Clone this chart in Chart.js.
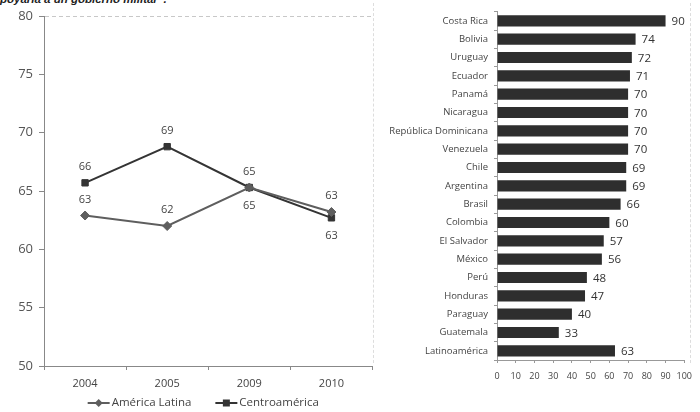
<!DOCTYPE html>
<html>
<head>
<meta charset="utf-8">
<script src="https://cdn.jsdelivr.net/npm/chart.js@4"></script>
<style>
  body { margin: 0; background: #fff; width: 700px; height: 412px; overflow: hidden; position: relative; }
  #title { position: absolute; left: 0; top: -7px; font: italic bold 11.5px "Liberation Sans", Arial, sans-serif; color: #222; white-space: nowrap; }
  #leftBox { position: absolute; left: 0; top: 0; width: 378px; height: 412px; }
  #rightBox { position: absolute; left: 372px; top: 0; width: 328px; height: 412px; }
  #frame { position: absolute; left: 373px; top: 3px; width: 316px; height: 360px; border-left: 1px dashed #ddd; border-right: 1px dashed #ddd; }
</style>
</head>
<body>
<div id="title">poyaría a un gobierno militar”.</div>
<div id="frame"></div>
<div id="leftBox"><canvas id="lineChart"></canvas></div>
<div id="rightBox"><canvas id="barChart"></canvas></div>
<script>
(function () {
  // Left: share supporting a military government, by year
  var YEARS = ['2004', '2005', '2009', '2010'];
  var AL_VALUES = [62.9, 62.0, 65.3, 63.2];   // América Latina
  var CA_VALUES = [65.7, 68.8, 65.3, 62.7];   // Centroamérica
  var Y_MIN = 50, Y_MAX = 80, Y_STEP = 5;

  // Right: by country
  var COUNTRIES = ['Costa Rica', 'Bolivia', 'Uruguay', 'Ecuador', 'Panamá', 'Nicaragua',
    'República Dominicana', 'Venezuela', 'Chile', 'Argentina', 'Brasil', 'Colombia',
    'El Salvador', 'México', 'Perú', 'Honduras', 'Paraguay', 'Guatemala', 'Latinoamérica'];
  var COUNTRY_VALUES = [90, 74, 72, 71, 70, 70, 70, 70, 69, 69, 66, 60, 57, 56, 48, 47, 40, 33, 63];
  var X_MIN = 0, X_MAX = 100, X_STEP = 10;

  var FONT = '"Open Sans", Lato, sans-serif';
  var TXT = '#444';

  // draw a line-with-marker symbol (legend)
  function drawSymbol(g, kind, color, x, y) {
    g.strokeStyle = color; g.lineWidth = 2;
    g.beginPath(); g.moveTo(x, y); g.lineTo(x + 22, y); g.stroke();
    g.fillStyle = color;
    g.beginPath();
    if (kind === 'rectRot') {
      g.moveTo(x + 11, y - 4); g.lineTo(x + 15, y); g.lineTo(x + 11, y + 4); g.lineTo(x + 7, y);
    } else {
      g.rect(x + 7.5, y - 3.5, 7, 7);
    }
    g.closePath(); g.fill();
  }

  // value labels above / below each point, plus the Excel-style legend
  var lineExtras = {
    id: 'lineExtras',
    afterDatasetsDraw: function (chart) {
      var ctx = chart.ctx;
      ctx.save();
      ctx.font = '11px ' + FONT;
      ctx.fillStyle = TXT;
      ctx.textAlign = 'center';
      ctx.textBaseline = 'middle';
      chart.data.datasets.forEach(function (ds, i) {
        chart.getDatasetMeta(i).data.forEach(function (pt, j) {
          var dy = ds.labelPos[j] === 'below' ? 18 : -16;
          ctx.fillText(Math.round(ds.data[j]), pt.x, pt.y + dy);
        });
      });

      // legend
      ctx.font = '11.5px ' + FONT;
      ctx.textAlign = 'left';
      var sets = chart.data.datasets;
      var gap = 24, symW = 22, pad = 2;
      var total = 0;
      sets.forEach(function (ds, i) {
        total += symW + pad + ctx.measureText(ds.label).width + (i ? gap : 0);
      });
      var area = chart.chartArea;
      var x = (area.left + area.right) / 2 - total / 2 - 5;
      var y = area.bottom + 37;
      sets.forEach(function (ds) {
        drawSymbol(ctx, ds.pointStyle, ds.borderColor, x, y);
        x += symW + pad;
        ctx.fillStyle = TXT;
        ctx.fillText(ds.label, x, y);
        x += ctx.measureText(ds.label).width + gap;
      });
      ctx.restore();
    }
  };

  // value labels at the end of each bar
  var barLabels = {
    id: 'barLabels',
    afterDatasetsDraw: function (chart) {
      var ctx = chart.ctx;
      ctx.save();
      ctx.font = '11.5px ' + FONT;
      ctx.fillStyle = '#333';
      ctx.textAlign = 'left';
      ctx.textBaseline = 'middle';
      var ds = chart.data.datasets[0];
      chart.getDatasetMeta(0).data.forEach(function (bar, j) {
        ctx.fillText(ds.data[j], bar.x + 6, bar.y + 1);
      });
      ctx.restore();
    }
  };

  var AL_COLOR = '#5e5e5e', CA_COLOR = '#343434';

  new Chart(document.getElementById('lineChart'), {
    type: 'line',
    plugins: [lineExtras],
    data: {
      labels: YEARS,
      datasets: [
        {
          label: 'América Latina',
          data: AL_VALUES,
          borderColor: AL_COLOR,
          backgroundColor: AL_COLOR,
          borderWidth: 2,
          pointStyle: 'rectRot',
          pointRadius: 4.5,
          pointBorderWidth: 1,
          labelPos: ['above', 'above', 'below', 'above'],
          tension: 0
        },
        {
          label: 'Centroamérica',
          data: CA_VALUES,
          borderColor: CA_COLOR,
          backgroundColor: CA_COLOR,
          borderWidth: 2,
          pointStyle: 'rect',
          pointRadius: 4.5,
          pointBorderWidth: 1,
          labelPos: ['above', 'above', 'above', 'below'],
          tension: 0
        }
      ]
    },
    options: {
      responsive: true,
      maintainAspectRatio: false,
      animation: false,
      layout: { padding: { top: 16, right: 0, bottom: 0, left: 0 } },
      plugins: {
        tooltip: { enabled: false },
        legend: { display: false }
      },
      scales: {
        x: {
          offset: true,
          afterFit: function (s) { s.height = 46; },
          ticks: { color: TXT, font: { family: FONT, size: 11 }, padding: 7 },
          grid: { offset: true, drawOnChartArea: false, tickLength: 4, tickColor: '#888' },
          border: { color: '#888' }
        },
        y: {
          min: Y_MIN,
          max: Y_MAX,
          afterFit: function (s) { s.width = 44; },
          ticks: { stepSize: Y_STEP, color: '#555', font: { family: FONT, size: 13 }, padding: 6 },
          grid: {
            color: function (c) { return c.tick && c.tick.value === Y_MAX ? '#c8c8c8' : 'rgba(0,0,0,0)'; },
            tickColor: '#888',
            tickLength: 5
          },
          border: { color: '#888', dash: [4, 3] }
        }
      }
    }
  });

  new Chart(document.getElementById('barChart'), {
    type: 'bar',
    plugins: [barLabels],
    data: {
      labels: COUNTRIES,
      datasets: [{
        data: COUNTRY_VALUES,
        backgroundColor: '#2e2e2e',
        barPercentage: 0.95,
        categoryPercentage: 0.64
      }]
    },
    options: {
      indexAxis: 'y',
      responsive: true,
      maintainAspectRatio: false,
      animation: false,
      layout: { padding: { top: 4, right: 14, bottom: 0, left: 0 } },
      plugins: { legend: { display: false }, tooltip: { enabled: false } },
      scales: {
        x: {
          min: X_MIN,
          max: X_MAX,
          afterFit: function (s) { s.height = 52; },
          ticks: { stepSize: X_STEP, color: TXT, font: { family: FONT, size: 9 }, padding: 8, maxRotation: 0, minRotation: 0, autoSkip: false },
          grid: { drawOnChartArea: false, tickLength: 3, tickColor: '#999' },
          border: { color: '#999' }
        },
        y: {
          afterFit: function (s) { s.width = 125; },
          ticks: { color: TXT, font: { family: FONT, size: 9.5 }, padding: 6, autoSkip: false },
          grid: { drawOnChartArea: false, tickLength: 3, tickColor: '#999' },
          border: { color: '#999' }
        }
      }
    }
  });
})();
</script>
</body>
</html>
